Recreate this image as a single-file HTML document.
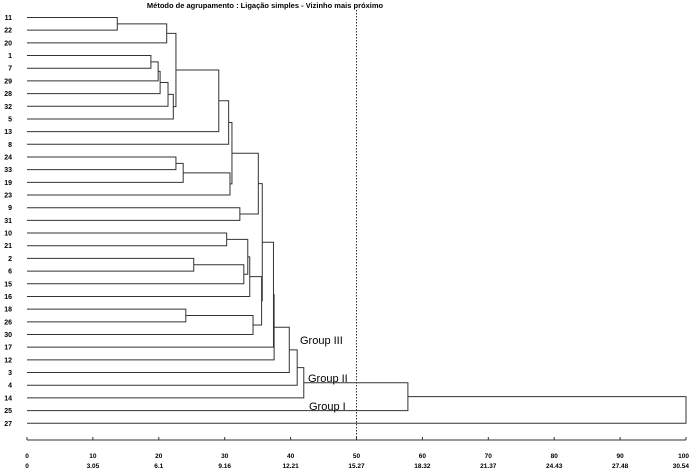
<!DOCTYPE html>
<html><head><meta charset="utf-8"><style>
html,body{margin:0;padding:0;background:#fff;}
svg{display:block;font-family:"Liberation Sans",sans-serif;}
</style></head><body>
<svg id="chart" width="690" height="471">
<text x="265" y="8" font-size="7.5" font-weight="bold" text-anchor="middle">Método de agrupamento : Ligação simples - Vizinho mais próximo</text>
<g id="tree"></g>
<g id="leaves"></g>
<g id="axis"></g>
</svg>
<script>
const leafLabels = ["11","22","20","1","7","29","28","32","5","13","8","24","33","19","23","9","31","10","21","2","6","15","16","18","26","30","17","12","3","4","14","25","27"];
const merges = [
 [0,1,13.7],["c0",2,21.2],[3,4,18.8],["c2",5,19.9],["c3",6,20.2],["c4",7,21.4],["c5",8,22.2],
 ["c1","c6",22.6],["c7",9,29.1],["c8",10,30.6],
 [11,12,22.6],["c10",13,23.7],["c11",14,30.8],
 ["c9","c12",31.1],[15,16,32.3],["c13","c14",35.1],
 [17,18,30.3],[19,20,25.3],["c17",21,32.9],["c16","c18",33.5],["c19",22,33.8],
 [23,24,24.1],["c21",25,34.3],["c20","c22",35.6],
 ["c15","c23",35.7],["c24",26,37.4],["c25",27,37.5],["c26",28,39.8],["c27",29,41.0],["c28",30,42.0],["c29",31,57.8],["c30",32,100]
];
const tickValues = [0,10,20,30,40,50,60,70,80,90,100];
const tickLabels2 = ["0","3.05","6.1","9.16","12.21","15.27","18.32","21.37","24.43","27.48","30.54"];
const cutValue = 50;
const groupNames = ["Group III","Group II","Group I"];

const NS="http://www.w3.org/2000/svg";
const x0=27,x1=686,y0=17.5,step=12.68;
const xs=v=>x0+(x1-x0)*v/100;
const ys=i=>y0+i*step;
function mk(tag,attrs,parent){const e=document.createElementNS(NS,tag);for(const k in attrs)e.setAttribute(k,attrs[k]);parent.appendChild(e);return e;}
const tree=document.getElementById('tree'),lv=document.getElementById('leaves'),ax=document.getElementById('axis');
leafLabels.forEach((l,i)=>{
 const t=mk('text',{x:12,y:ys(i)+2.5,'font-size':7,'font-weight':'bold','text-anchor':'end'},lv);
 t.textContent=l;
 
 
});
const nodes=[];
function get(r){if(typeof r==='string')return nodes[+r.slice(1)];return {x:xs(0),y:ys(r)};}
merges.forEach((m,k)=>{
 const a=get(m[0]),b=get(m[1]),xh=xs(m[2]);
 const p=mk('path',{d:`M${a.x},${a.y}H${xh}V${b.y}H${b.x}`,fill:'none',stroke:'#333','stroke-width':1},tree);
 
 
 nodes.push({x:xh,y:(a.y+b.y)/2});
});
const ay=440;
const al=mk('line',{x1:x0,x2:x1,y1:ay,y2:ay,stroke:'#333'},ax);


function placeLabel(t){const w=t.getComputedTextLength();const cx=+t.getAttribute('x');if(cx+w/2>689){t.setAttribute('x',689);t.setAttribute('text-anchor','end');}}
tickValues.forEach((v,i)=>{
 const tk=mk('line',{x1:xs(v),x2:xs(v),y1:ay-3,y2:ay,stroke:'#333'},ax);
 
 
 const t1=mk('text',{x:xs(v),y:458,'font-size':6.5,'font-weight':'bold','text-anchor':'middle'},ax);
 t1.textContent=String(v);
 
 
 placeLabel(t1);
 const t2=mk('text',{x:xs(v),y:468,'font-size':6.5,'font-weight':'bold','text-anchor':'middle'},ax);
 t2.textContent=tickLabels2[i];
 
 
 placeLabel(t2);
});
const cut=mk('line',{x1:xs(cutValue),x2:xs(cutValue),y1:10,y2:ay,stroke:'#333','stroke-dasharray':'1.5,1.5'},tree);


const gp=[[300,344],[308,382],[309,410]];
groupNames.forEach((g,i)=>{
 const t=mk('text',{x:gp[i][0],y:gp[i][1],'font-size':11},tree);
 t.textContent=g;
 
 
});
</script>
</body></html>
